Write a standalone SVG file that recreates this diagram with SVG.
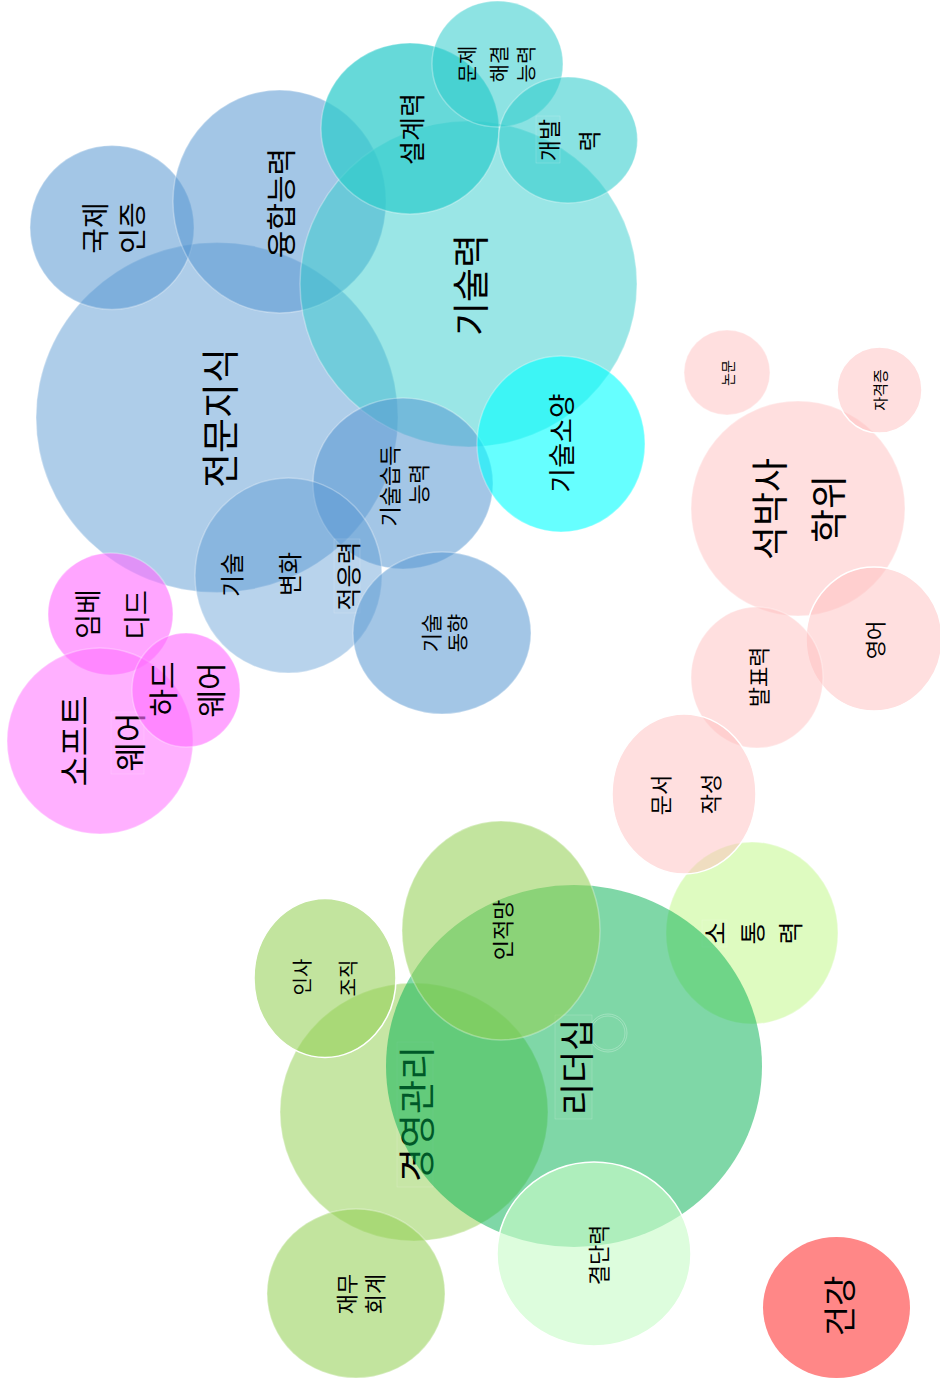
<svg xmlns="http://www.w3.org/2000/svg" width="940" height="1384" viewBox="0 0 940 1384">
<style>
text{font-family:"Noto Sans CJK KR","Noto Sans",sans-serif;fill:#000;text-anchor:middle;dominant-baseline:central}
ellipse{stroke:#fff;stroke-width:1.5;stroke-opacity:.3}
ellipse.s{stroke-opacity:1}
ellipse.ns{stroke-opacity:0}
.b{fill:#5596d1}
.t{fill:#30cccc}
.cy{fill:#00ffff}
.m{fill:#ff6eff}
.p{fill:#ffbfbf}
.g{fill:#00b050}
.y{fill:#93cf54}
.lg{fill:#c8f896}
.pg{fill:#c9fcc9}
.r{fill:#ff8787}
.hl{fill:#fff;fill-opacity:.03;stroke:#fff;stroke-opacity:.3;stroke-width:.5}
.ring{fill:none;stroke:#fff;stroke-opacity:.45;stroke-width:.6}
</style>
<rect width="940" height="1384" fill="#fff"/>
<g id="connectors"/>
<g id="n-jeonmun">
<ellipse class="b" fill-opacity=".476" cx="217" cy="417.5" rx="181" ry="175"/>
<text font-size="38" transform="translate(217,418) rotate(-90)">전문지식</text>
</g>
<g id="n-gukje">
<ellipse class="b" fill-opacity=".54" cx="112" cy="227.5" rx="82" ry="82"/>
<text font-size="28" transform="translate(94,228) rotate(-90)">국제</text>
<text font-size="28" transform="translate(131,228) rotate(-90)">인증</text>
</g>
<g id="n-yunghap">
<ellipse class="b" fill-opacity=".54" cx="279.5" cy="201.5" rx="106.5" ry="111.5"/>
<text font-size="30" transform="translate(279,203) rotate(-90)">융합능력</text>
</g>
<g id="n-gisullyeok">
<ellipse class="t" fill-opacity=".49" cx="468.5" cy="284" rx="168.5" ry="163"/>
<text font-size="37" transform="translate(469,285) rotate(-90)">기술력</text>
</g>
<g id="n-seolgye">
<ellipse class="t" fill-opacity=".74" cx="410" cy="128.5" rx="89" ry="85.5"/>
<text font-size="26" transform="translate(410,129) rotate(-90)">설계력</text>
</g>
<g id="n-munje">
<ellipse class="t" fill-opacity=".55" cx="497.5" cy="64" rx="65.5" ry="63"/>
<text font-size="20" transform="translate(466,64) rotate(-90)">문제</text>
<text font-size="20" transform="translate(498,64) rotate(-90)">해결</text>
<text font-size="20" transform="translate(525,64) rotate(-90)">능력</text>
</g>
<g id="n-gaebal">
<ellipse class="t" fill-opacity=".57" cx="568" cy="140" rx="69.5" ry="63"/>
<rect class="hl" x="536" y="116" width="24" height="47"/>
<text font-size="23" transform="translate(548,140) rotate(-90)">개발</text>
<text font-size="23" transform="translate(588,141) rotate(-90)">력</text>
</g>
<g id="n-seupdeuk">
<ellipse class="b" fill-opacity=".54" cx="403" cy="483.5" rx="90" ry="85.5"/>
<text font-size="22" transform="translate(388,486) rotate(-90)">기술습득</text>
<text font-size="22" transform="translate(417,484) rotate(-90)">능력</text>
</g>
<g id="n-byeonhwa">
<ellipse class="b" fill-opacity=".42" cx="288.5" cy="575.5" rx="93.5" ry="97.5"/>
<rect class="hl" x="334" y="539" width="26" height="74"/>
<text font-size="24" transform="translate(230,575) rotate(-90)">기술</text>
<text font-size="24" transform="translate(288,574) rotate(-90)">변화</text>
<text font-size="25" transform="translate(347,576) rotate(-90)">적응력</text>
</g>
<g id="n-donghyang">
<ellipse class="b" fill-opacity=".54" cx="442" cy="633" rx="89" ry="81"/>
<text font-size="21" transform="translate(430,633) rotate(-90)">기술</text>
<text font-size="21" transform="translate(456,633) rotate(-90)">동향</text>
</g>
<g id="n-soyang">
<ellipse class="cy" fill-opacity=".6" cx="561" cy="444" rx="84" ry="88"/>
<text font-size="27" transform="translate(560,443) rotate(-90)">기술소양</text>
</g>
<g id="n-embedded">
<ellipse class="m" fill-opacity=".62" cx="110.5" cy="614" rx="62.5" ry="61"/>
<text font-size="27" transform="translate(86,614) rotate(-90)">임베</text>
<text font-size="27" transform="translate(135,615) rotate(-90)">디드</text>
</g>
<g id="n-software">
<ellipse class="m" fill-opacity=".545" cx="100" cy="741" rx="93" ry="93"/>
<rect class="hl" x="111" y="712" width="33" height="62"/>
<text font-size="33" transform="translate(73,741) rotate(-90)">소프트</text>
<text font-size="32" transform="translate(128,742) rotate(-90)">웨어</text>
</g>
<g id="n-hardware">
<ellipse class="m" fill-opacity=".62" cx="186" cy="690" rx="54" ry="57"/>
<text font-size="30" transform="translate(161,689) rotate(-90)">하드</text>
<text font-size="30" transform="translate(209,690) rotate(-90)">웨어</text>
</g>
<g id="n-sotong">
<ellipse class="lg" fill-opacity=".6" cx="752" cy="933" rx="86" ry="91"/>
<rect class="hl" x="702" y="920" width="25" height="27"/>
<text font-size="25" transform="translate(714,933) rotate(-90)">소</text>
<text font-size="25" transform="translate(751,933) rotate(-90)">통</text>
<text font-size="25" transform="translate(789,933) rotate(-90)">력</text>
</g>
<g id="n-nonmun">
<ellipse class="p" fill-opacity=".5" cx="727" cy="372.5" rx="43" ry="42.5"/>
<text font-size="14" transform="translate(727,373) rotate(-90)">논문</text>
</g>
<g id="n-seokbaksa">
<ellipse class="p" fill-opacity=".5" cx="798" cy="508.5" rx="107" ry="107.5"/>
<text font-size="37" transform="translate(768,509) rotate(-90)">석박사</text>
<text font-size="37" transform="translate(827,509) rotate(-90)">학위</text>
</g>
<g id="n-jagyeok">
<ellipse class="p s" fill-opacity=".5" cx="879.5" cy="390" rx="42.5" ry="43"/>
<text font-size="15" transform="translate(879,390) rotate(-90)">자격증</text>
</g>
<g id="n-yeongeo">
<ellipse class="p s" fill-opacity=".5" cx="874" cy="639" rx="68" ry="72"/>
<text font-size="21" transform="translate(874,640) rotate(-90)">영어</text>
</g>
<g id="n-balpyo">
<ellipse class="p" fill-opacity=".5" cx="757" cy="677.5" rx="66" ry="70.5"/>
<text font-size="22" transform="translate(757,677) rotate(-90)">발표력</text>
</g>
<g id="n-munseo">
<ellipse class="p s" fill-opacity=".5" cx="684" cy="794" rx="72" ry="80"/>
<text font-size="22" transform="translate(659,795) rotate(-90)">문서</text>
<text font-size="22" transform="translate(709,794) rotate(-90)">작성</text>
</g>
<g id="n-gyeongyeong">
<ellipse class="y" fill-opacity=".53" cx="414" cy="1112" rx="134" ry="129"/>
<rect class="hl" x="397" y="1042" width="36" height="145"/>
<text font-size="37" transform="translate(415,1114) rotate(-90)">경영관리</text>
</g>
<g id="n-leadership">
<ellipse class="g ns" fill-opacity=".5" cx="574" cy="1066" rx="188" ry="181"/>
<rect class="hl" x="555" y="1015" width="37" height="104"/>
<circle class="ring" cx="608" cy="1033" r="19"/>
<circle class="ring" cx="608" cy="1033" r="17"/>
<text font-size="35" transform="translate(574,1067) rotate(-90)">리더십</text>
</g>
<g id="n-injeok">
<ellipse class="y" fill-opacity=".57" cx="501" cy="930.5" rx="99" ry="109.5"/>
<text font-size="22" transform="translate(501,930) rotate(-90)">인적망</text>
</g>
<g id="n-insa">
<ellipse class="y s" fill-opacity=".57" cx="325" cy="978" rx="71" ry="79.5"/>
<text font-size="20" transform="translate(301,977) rotate(-90)">인사</text>
<text font-size="20" transform="translate(347,978) rotate(-90)">조직</text>
</g>
<g id="n-jaemu">
<ellipse class="y" fill-opacity=".57" cx="356" cy="1293.5" rx="89" ry="84.5"/>
<text font-size="22" transform="translate(345,1294) rotate(-90)">재무</text>
<text font-size="22" transform="translate(373,1294) rotate(-90)">회계</text>
</g>
<g id="n-gyeoldan">
<ellipse class="pg s" fill-opacity=".63" cx="594" cy="1254" rx="97" ry="92"/>
<text font-size="22" transform="translate(597,1255) rotate(-90)">결단력</text>
</g>
<g id="n-geongang">
<ellipse class="r ns" cx="836.5" cy="1307.5" rx="73.5" ry="70.5"/>
<text font-size="33" transform="translate(838,1306) rotate(-90)">건강</text>
</g>
</svg>
